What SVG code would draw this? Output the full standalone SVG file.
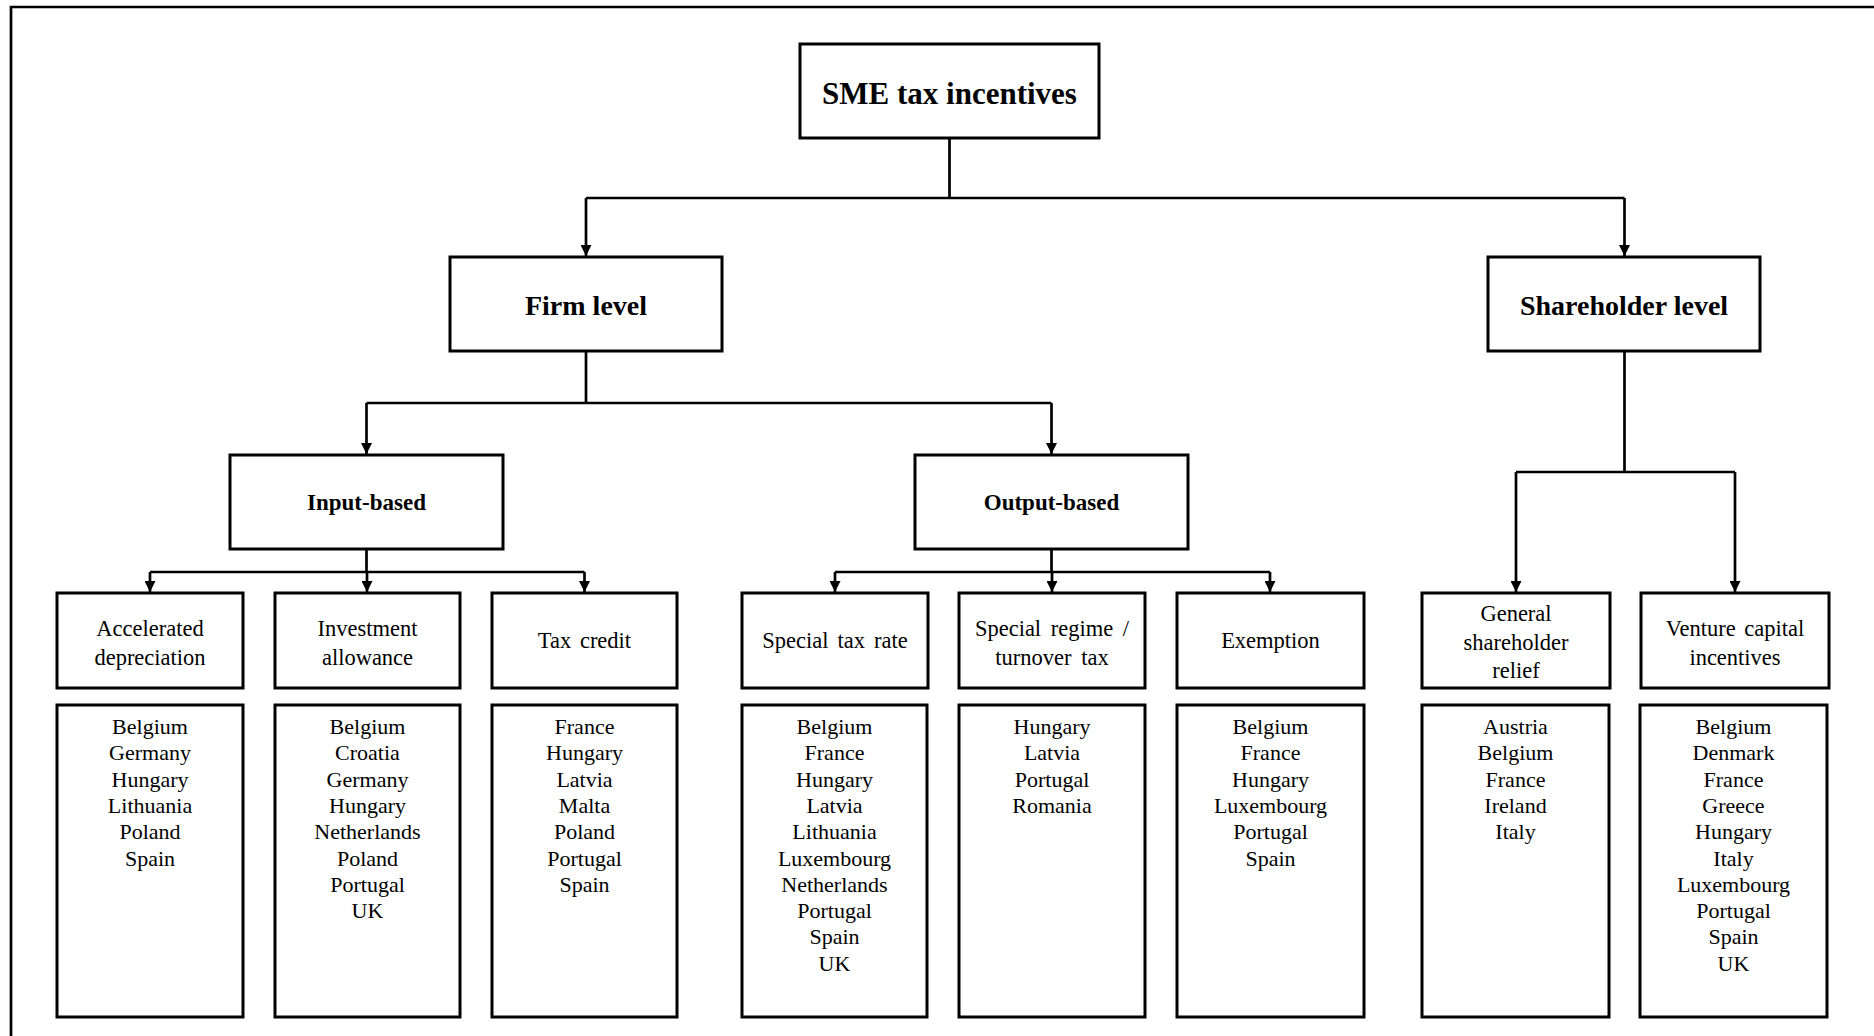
<svg xmlns="http://www.w3.org/2000/svg" width="1874" height="1036" viewBox="0 0 1874 1036">
<style>
.box{fill:#fff;stroke:#000;stroke-width:3}
.ln{fill:none;stroke:#000;stroke-width:2.7}
.t{font-family:"Liberation Serif","Times New Roman",serif;fill:#000;text-anchor:middle}
.b{font-weight:bold}
.lab{font-size:22.5px}
.cty{font-size:22px}
</style>
<defs>
<marker id="arr" markerUnits="userSpaceOnUse" viewBox="0 0 11 11" markerWidth="11" markerHeight="11" refX="11" refY="5.5" orient="auto">
<path d="M0,0 L11,5.5 L0,11 z" fill="#000"/>
</marker>
</defs>
<rect width="1874" height="1036" fill="#fff"/>
<path d="M11,1036 V7 H1874" fill="none" stroke="#000" stroke-width="2.7"/>

<g id="connectors">
<path class="ln" d="M949.5,138 V198 M586,198 H1624.5"/>
<path class="ln" d="M586,198 V256" marker-end="url(#arr)"/>
<path class="ln" d="M1624.5,198 V256" marker-end="url(#arr)"/>
<path class="ln" d="M586,351 V403 M366.5,403 H1051.5"/>
<path class="ln" d="M366.5,403 V454" marker-end="url(#arr)"/>
<path class="ln" d="M1051.5,403 V454" marker-end="url(#arr)"/>
<path class="ln" d="M366.5,549 V572 M150,572 H584.5"/>
<path class="ln" d="M150,572 V592" marker-end="url(#arr)"/>
<path class="ln" d="M367,572 V592" marker-end="url(#arr)"/>
<path class="ln" d="M584.5,572 V592" marker-end="url(#arr)"/>
<path class="ln" d="M1051.5,549 V572 M835,572 H1270"/>
<path class="ln" d="M835,572 V592" marker-end="url(#arr)"/>
<path class="ln" d="M1052,572 V592" marker-end="url(#arr)"/>
<path class="ln" d="M1270,572 V592" marker-end="url(#arr)"/>
<path class="ln" d="M1624.5,351 V472 M1516,472 H1735"/>
<path class="ln" d="M1516,472 V592" marker-end="url(#arr)"/>
<path class="ln" d="M1735,472 V592" marker-end="url(#arr)"/>
</g>

<g id="sme">
<rect class="box" x="800" y="44" width="299" height="94"/>
<text class="t b" x="949.5" y="104" font-size="31">SME tax incentives</text>
</g>
<g id="firm">
<rect class="box" x="450" y="257" width="272" height="94"/>
<text class="t b" x="586" y="315" font-size="28">Firm level</text>
</g>
<g id="shareholder">
<rect class="box" x="1488" y="257" width="272" height="94"/>
<text class="t b" x="1624" y="315" font-size="28">Shareholder level</text>
</g>
<g id="input">
<rect class="box" x="230" y="455" width="273" height="94"/>
<text class="t b" x="366.5" y="510" font-size="23">Input-based</text>
</g>
<g id="output">
<rect class="box" x="915" y="455" width="273" height="94"/>
<text class="t b" x="1051.5" y="510" font-size="23">Output-based</text>
</g>

<g id="accelerated">
<rect class="box" x="57" y="593" width="186" height="95"/>
<text class="t lab" x="150" y="636">Accelerated</text>
<text class="t lab" x="150" y="665">depreciation</text>
</g>
<g id="investment">
<rect class="box" x="275" y="593" width="185" height="95"/>
<text class="t lab" x="367.5" y="636">Investment</text>
<text class="t lab" x="367.5" y="665">allowance</text>
</g>
<g id="taxcredit">
<rect class="box" x="492" y="593" width="185" height="95"/>
<text class="t lab" x="584.5" y="648" word-spacing="3">Tax credit</text>
</g>
<g id="specialrate">
<rect class="box" x="742" y="593" width="186" height="95"/>
<text class="t lab" x="835" y="648" word-spacing="3.5">Special tax rate</text>
</g>
<g id="specialregime">
<rect class="box" x="959" y="593" width="186" height="95"/>
<text class="t lab" x="1052" y="636" word-spacing="4">Special regime /</text>
<text class="t lab" x="1052" y="665" word-spacing="4">turnover tax</text>
</g>
<g id="exemption">
<rect class="box" x="1177" y="593" width="187" height="95"/>
<text class="t lab" x="1270.5" y="648">Exemption</text>
</g>
<g id="general">
<rect class="box" x="1422" y="593" width="188" height="95"/>
<text class="t lab" x="1516" y="621">General</text>
<text class="t lab" x="1516" y="650">shareholder</text>
<text class="t lab" x="1516" y="678">relief</text>
</g>
<g id="venture">
<rect class="box" x="1641" y="593" width="188" height="95"/>
<text class="t lab" x="1735" y="636" word-spacing="3">Venture capital</text>
<text class="t lab" x="1735" y="665">incentives</text>
</g>

<g id="list-accelerated">
<rect class="box" x="57" y="705" width="186" height="312"/>
<text class="t cty" x="150" y="734"><tspan x="150">Belgium</tspan><tspan x="150" dy="26.3">Germany</tspan><tspan x="150" dy="26.3">Hungary</tspan><tspan x="150" dy="26.3">Lithuania</tspan><tspan x="150" dy="26.3">Poland</tspan><tspan x="150" dy="26.3">Spain</tspan></text>
</g>
<g id="list-investment">
<rect class="box" x="275" y="705" width="185" height="312"/>
<text class="t cty" x="367.5" y="734"><tspan x="367.5">Belgium</tspan><tspan x="367.5" dy="26.3">Croatia</tspan><tspan x="367.5" dy="26.3">Germany</tspan><tspan x="367.5" dy="26.3">Hungary</tspan><tspan x="367.5" dy="26.3">Netherlands</tspan><tspan x="367.5" dy="26.3">Poland</tspan><tspan x="367.5" dy="26.3">Portugal</tspan><tspan x="367.5" dy="26.3">UK</tspan></text>
</g>
<g id="list-taxcredit">
<rect class="box" x="492" y="705" width="185" height="312"/>
<text class="t cty" x="584.5" y="734"><tspan x="584.5">France</tspan><tspan x="584.5" dy="26.3">Hungary</tspan><tspan x="584.5" dy="26.3">Latvia</tspan><tspan x="584.5" dy="26.3">Malta</tspan><tspan x="584.5" dy="26.3">Poland</tspan><tspan x="584.5" dy="26.3">Portugal</tspan><tspan x="584.5" dy="26.3">Spain</tspan></text>
</g>
<g id="list-specialrate">
<rect class="box" x="742" y="705" width="185" height="312"/>
<text class="t cty" x="834.5" y="734"><tspan x="834.5">Belgium</tspan><tspan x="834.5" dy="26.3">France</tspan><tspan x="834.5" dy="26.3">Hungary</tspan><tspan x="834.5" dy="26.3">Latvia</tspan><tspan x="834.5" dy="26.3">Lithuania</tspan><tspan x="834.5" dy="26.3">Luxembourg</tspan><tspan x="834.5" dy="26.3">Netherlands</tspan><tspan x="834.5" dy="26.3">Portugal</tspan><tspan x="834.5" dy="26.3">Spain</tspan><tspan x="834.5" dy="26.3">UK</tspan></text>
</g>
<g id="list-specialregime">
<rect class="box" x="959" y="705" width="186" height="312"/>
<text class="t cty" x="1052" y="734"><tspan x="1052">Hungary</tspan><tspan x="1052" dy="26.3">Latvia</tspan><tspan x="1052" dy="26.3">Portugal</tspan><tspan x="1052" dy="26.3">Romania</tspan></text>
</g>
<g id="list-exemption">
<rect class="box" x="1177" y="705" width="187" height="312"/>
<text class="t cty" x="1270.5" y="734"><tspan x="1270.5">Belgium</tspan><tspan x="1270.5" dy="26.3">France</tspan><tspan x="1270.5" dy="26.3">Hungary</tspan><tspan x="1270.5" dy="26.3">Luxembourg</tspan><tspan x="1270.5" dy="26.3">Portugal</tspan><tspan x="1270.5" dy="26.3">Spain</tspan></text>
</g>
<g id="list-general">
<rect class="box" x="1422" y="705" width="187" height="312"/>
<text class="t cty" x="1515.5" y="734"><tspan x="1515.5">Austria</tspan><tspan x="1515.5" dy="26.3">Belgium</tspan><tspan x="1515.5" dy="26.3">France</tspan><tspan x="1515.5" dy="26.3">Ireland</tspan><tspan x="1515.5" dy="26.3">Italy</tspan></text>
</g>
<g id="list-venture">
<rect class="box" x="1640" y="705" width="187" height="312"/>
<text class="t cty" x="1733.5" y="734"><tspan x="1733.5">Belgium</tspan><tspan x="1733.5" dy="26.3">Denmark</tspan><tspan x="1733.5" dy="26.3">France</tspan><tspan x="1733.5" dy="26.3">Greece</tspan><tspan x="1733.5" dy="26.3">Hungary</tspan><tspan x="1733.5" dy="26.3">Italy</tspan><tspan x="1733.5" dy="26.3">Luxembourg</tspan><tspan x="1733.5" dy="26.3">Portugal</tspan><tspan x="1733.5" dy="26.3">Spain</tspan><tspan x="1733.5" dy="26.3">UK</tspan></text>
</g>
</svg>
